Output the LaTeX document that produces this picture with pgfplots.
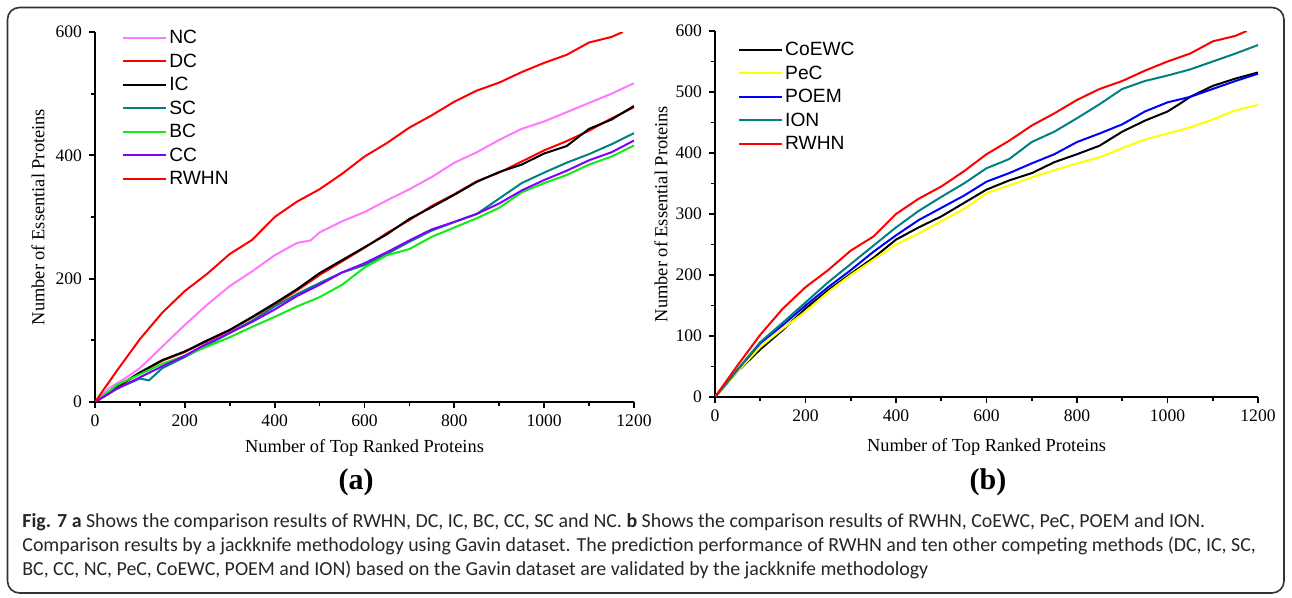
\documentclass[border=0pt]{standalone}
\usepackage{fontspec}
\setmainfont{Liberation Serif}
\newfontfamily\arialfont{Liberation Sans}
\newfontfamily\capfont{Carlito}
\usepackage{pgfplots}
\pgfplotsset{compat=1.18}
\usepackage{pgfplotstable}

\definecolor{ncpink}{RGB}{255,120,255}
\definecolor{scteal}{RGB}{0,128,128}
\definecolor{bcgreen}{RGB}{20,235,20}
\definecolor{ccpurple}{RGB}{128,0,255}
\definecolor{pecyellow}{RGB}{255,255,0}
\definecolor{poemblue}{RGB}{0,0,255}

\pgfplotstableread{
x y
0 0
50 52
100 102
150 145
200 180
250 208
300 240
350 263
400 300
450 325
500 345
550 370
600 398
650 420
700 445
750 465
800 487
850 505
900 518
950 535
1000 550
1050 563
1100 583
1150 592
1175 600
}\rwhn

\pgfplotstableread{
x y
0 0
30 22
60 35
100 55
150 90
200 125
250 158
300 188
350 212
400 238
450 258
480 262
500 275
550 293
600 308
650 327
700 345
750 365
800 388
850 405
900 425
950 443
1000 455
1050 470
1100 485
1150 500
1200 517
}\nc

\pgfplotstableread{
x y
0 0
50 25
100 48
150 68
200 82
250 100
300 117
350 138
400 160
450 183
500 209
550 230
600 251
650 272
700 297
750 316
800 336
850 357
900 373
950 385
1000 403
1050 415
1100 443
1150 458
1200 480
}\ic

\pgfplotstableread{
x y
0 0
50 24
100 47
150 67
200 81
250 99
300 116
350 137
400 158
450 181
500 206
550 228
600 250
650 274
700 295
750 318
800 337
850 358
900 372
950 390
1000 408
1050 423
1100 440
1150 460
1200 478
}\dc

\pgfplotstableread{
x y
0 0
50 22
100 38
120 35
150 55
200 73
250 92
300 112
350 132
400 155
450 175
500 193
550 210
600 222
650 240
700 260
750 278
800 292
850 305
900 330
950 355
1000 372
1050 388
1100 402
1150 418
1200 436
}\sc

\pgfplotstableread{
x y
0 0
50 28
100 45
150 62
200 75
250 90
300 105
350 122
400 138
450 155
500 170
550 190
600 218
650 238
700 248
750 268
800 283
850 298
900 315
950 340
1000 355
1050 368
1100 385
1150 398
1200 416
}\bc

\pgfplotstableread{
x y
0 0
50 22
100 40
150 58
200 75
250 95
300 112
350 130
400 150
450 172
500 190
550 210
600 225
650 243
700 262
750 280
800 292
850 305
900 322
950 343
1000 360
1050 375
1100 392
1150 405
1200 424
}\cc

\pgfplotstableread{
x y
0 0
50 45
100 90
150 122
200 155
250 188
300 218
350 248
400 278
450 305
500 328
550 350
600 375
650 390
700 418
750 435
800 457
850 480
900 505
950 518
1000 527
1050 537
1100 550
1150 563
1200 577
}\ion

\pgfplotstableread{
x y
0 0
50 45
100 88
150 118
200 150
250 180
300 208
350 238
400 265
450 290
500 310
550 330
600 353
650 367
700 383
750 398
800 418
850 432
900 447
950 468
1000 483
1050 492
1100 505
1150 518
1200 530
}\poem

\pgfplotstableread{
x y
0 0
50 42
100 78
150 110
200 145
250 175
300 202
350 228
400 258
450 278
500 296
550 318
600 340
650 355
700 367
750 385
800 398
850 412
900 435
950 453
1000 468
1030 482
1050 492
1100 510
1150 522
1200 532
}\coewc

\pgfplotstableread{
x y
0 0
50 42
100 82
150 112
200 140
250 172
300 200
350 225
400 250
450 268
500 288
550 308
600 334
650 347
700 360
750 372
800 383
850 393
900 408
950 422
1000 432
1050 442
1100 455
1150 470
1200 479
}\pec

\pgfplotsset{
  myaxis/.style={
    scale only axis,
    axis x line*=bottom,
    axis y line*=left,
    axis line style={line width=1.1pt},
    tick style={line width=0.9pt, black},
    tick align=outside,
    major tick length=3pt,
    minor tick length=2pt,
    xmin=0, xmax=1200, ymin=0, ymax=600,
    xtick={0,200,...,1200},
    minor x tick num=1,
    /pgf/number format/assume math mode=true,
    /pgf/number format/1000 sep={},
    tick label style={font=\fontsize{8.8}{10}\selectfont},
    label style={font=\fontsize{9.2}{11}\selectfont},
    legend cell align=left,
    legend style={draw=none, fill=none, inner sep=0pt, row sep=2.75pt,
      font=\arialfont\fontsize{9.6}{10}\selectfont,
      nodes={inner sep=1pt, text height=6.5pt, text depth=0.5pt}},
    legend image code/.code={\draw[##1] (0pt,0pt) -- (21.5pt,0pt);},
    every axis plot/.append style={line width=1pt},
  }
}

\begin{document}
\begin{tikzpicture}
\useasboundingbox (0pt,0pt) rectangle (646pt,-299pt);
\draw[line width=0.8pt, black!80, rounded corners=6pt] (3.75pt,-3.75pt) rectangle (642pt,-296.5pt);

% (a)
\begin{axis}[myaxis,
  at={(47.5pt,-201pt)}, anchor=south west,
  width=269.5pt, height=185pt,
  ytick={0,200,...,600}, minor y tick num=1,
  xlabel={Number of Top Ranked Proteins},
  ylabel={Number of Essential Proteins},
  xlabel style={at={(axis description cs:0.5,0)}, anchor=center, yshift=-23pt},
  ylabel style={at={(axis description cs:-0.1058,0.5)}, anchor=center},
  legend style={at={(0.05,1.01)}, anchor=north west},
]
\addplot[ncpink] table {\nc};
\addplot[red] table {\dc};
\addplot[black] table {\ic};
\addplot[scteal] table {\sc};
\addplot[bcgreen] table {\bc};
\addplot[ccpurple] table {\cc};
\addplot[red] table {\rwhn};
\legend{NC,DC,IC,SC,BC,CC,RWHN}
\end{axis}

% (b)
\begin{axis}[myaxis,
  at={(357.5pt,-198.5pt)}, anchor=south west,
  width=271.5pt, height=183pt,
  ytick={0,100,...,600}, minor y tick num=1,
  xlabel={Number of Top Ranked Proteins},
  ylabel={Number of Essential Proteins},
  xlabel style={at={(axis description cs:0.5,0)}, anchor=center, yshift=-25pt},
  ylabel style={at={(axis description cs:-0.0994,0.5)}, anchor=center},
  legend style={at={(0.042,0.975)}, anchor=north west},
]
\addplot[black] table {\coewc};
\addplot[pecyellow] table {\pec};
\addplot[poemblue] table {\poem};
\addplot[scteal] table {\ion};
\addplot[red] table {\rwhn};
\legend{CoEWC,PeC,POEM,ION,RWHN}
\end{axis}

\node[font=\bfseries\fontsize{15}{17}\selectfont] at (178pt,-241pt) {(a)};
\node[font=\bfseries\fontsize{15}{17}\selectfont] at (494pt,-241pt) {(b)};

\begin{scope}[every node/.style={anchor=base west, inner sep=0pt, font=\capfont\fontsize{9.95}{12}\selectfont, text=black!85}]
\node at (11pt,-264pt) {\textbf{Fig. 7 a} Shows the comparison results of RWHN, DC, IC, BC, CC, SC and NC. \textbf{b} Shows the comparison results of RWHN, CoEWC, PeC, POEM and ION.};
\node at (11pt,-276pt) {Comparison results by a jackknife methodology using Gavin dataset. The prediction performance of RWHN and ten other competing methods (DC, IC, SC,};
\node at (11pt,-288pt) {BC, CC, NC, PeC, CoEWC, POEM and ION) based on the Gavin dataset are validated by the jackknife methodology};
\end{scope}
\end{tikzpicture}
\end{document}
